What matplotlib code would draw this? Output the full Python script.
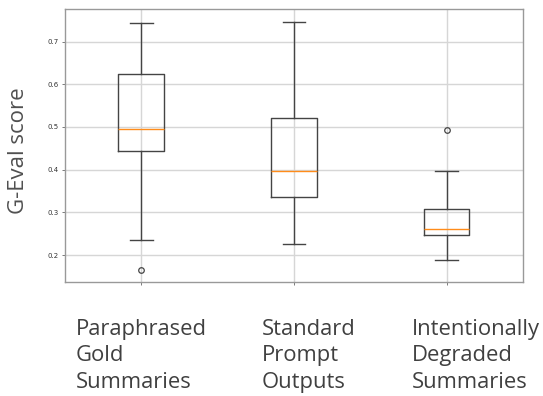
import matplotlib
matplotlib.use("Agg")
import matplotlib.pyplot as plt

# Summary statistics
categories = ["Paraphrased\nGold\nSummaries",
              "Standard\nPrompt\nOutputs",
              "Intentionally\nDegraded\nSummaries"]
whislo = [0.235, 0.225, 0.189]
q1 = [0.443, 0.335, 0.246]
med = [0.496, 0.398, 0.260]
q3 = [0.623, 0.520, 0.308]
whishi = [0.743, 0.746, 0.398]
fliers = [[0.166], [], [0.493]]

stats = []
for i in range(len(categories)):
    stats.append({"whislo": whislo[i], "q1": q1[i], "med": med[i],
                  "q3": q3[i], "whishi": whishi[i], "fliers": fliers[i]})

fig = plt.figure(figsize=(5.43, 3.96), dpi=100)
ax = fig.add_axes([0.1197, 0.2879, 0.963 - 0.1197, 0.977 - 0.2879])

line_col = "#444444"
ax.bxp(stats, positions=[1, 2, 3], widths=0.3,
       boxprops=dict(color=line_col, linewidth=1.0),
       whiskerprops=dict(color=line_col, linewidth=1.0),
       capprops=dict(color=line_col, linewidth=1.0),
       medianprops=dict(color="#ff8c1a", linewidth=1.0),
       flierprops=dict(marker="o", markersize=4, markerfacecolor="none",
                       markeredgecolor=line_col, markeredgewidth=0.9))

ax.set_xlim(0.5, 3.5)
ax.set_ylim(0.137, 0.776)
ax.set_yticks([0.2, 0.3, 0.4, 0.5, 0.6, 0.7])
ax.set_xticks([1, 2, 3])
ax.set_xticklabels(["", "", ""])
ax.grid(True, color="#d6d6d6", linewidth=1.0)
ax.set_axisbelow(True)
ax.tick_params(axis="y", labelsize=5, labelcolor="#333333", color="#666666",
               length=2.5, width=0.6, pad=2)
ax.tick_params(axis="x", color="#666666", length=2.5, width=0.6)
for s in ax.spines.values():
    s.set_color("#999999")
    s.set_linewidth(1.0)

fig.text(19 / 543, 1 - 151 / 396, "G-Eval score", rotation=90, ha="center",
         va="center", fontsize=16, family="Open Sans", color="#505050")

# large category labels placed under the axes, left aligned
label_x = [76, 262, 412]
for x, lab in zip(label_x, categories):
    fig.text(x / 543, 1 - 319 / 396, lab, ha="left", va="top",
             fontsize=15.8, family="Open Sans", color="#404040",
             linespacing=1.33)

fig.savefig("out.png", dpi=100)
